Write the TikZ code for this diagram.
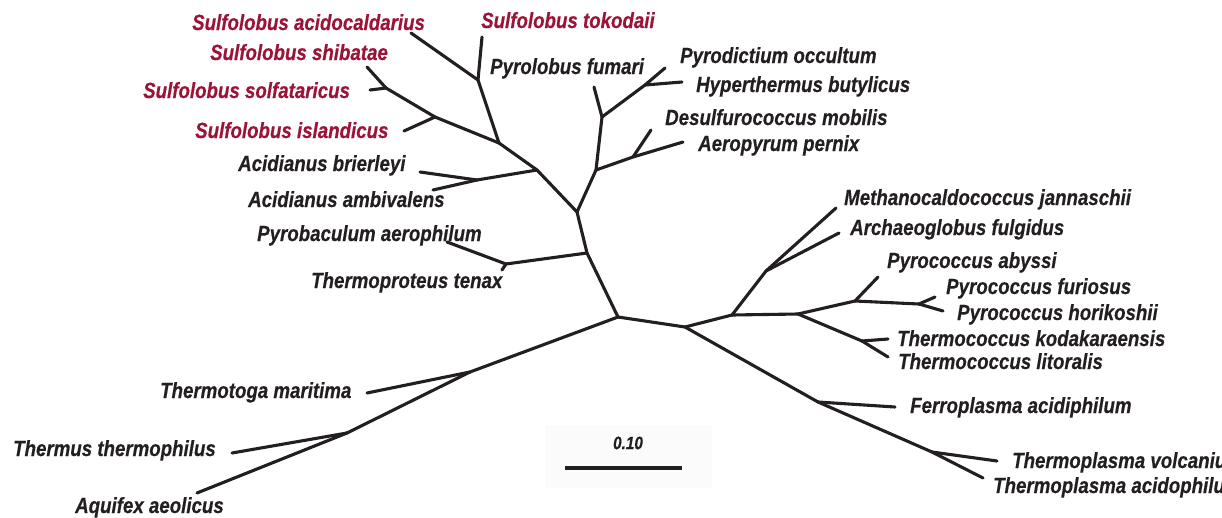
\documentclass[tikz,border=0pt]{standalone}
\usepackage{fontspec}
\setmainfont{Liberation Sans}
\newfontfamily\taxfont{Liberation Sans}[FakeStretch=0.85, FakeBold=0.4]
\usepackage{tikz}
\usetikzlibrary{positioning}
\usepackage{xcolor}
\definecolor{treeink}{RGB}{35,31,32}
\definecolor{sulfred}{RGB}{155,20,55}

\begin{document}
\begin{tikzpicture}[
    x=1pt, y=-1pt,
    branch/.style={draw=treeink, line width=3.1pt, line cap=round, line join=round},
    taxon/.style={anchor=base west, inner sep=0pt, text=treeink, font=\taxfont\bfseries\itshape\fontsize{22}{24}\selectfont},
    redtaxon/.style={taxon, text=sulfred},
    barlabel/.style={inner sep=0pt, text=treeink, font=\taxfont\bfseries\itshape\fontsize{18}{20}\selectfont}
  ]
  \useasboundingbox (0,0) rectangle (1222,517);
  \clip (0,0) rectangle (1222,517);

  % inner branch points
  \foreach \n/\x/\y in {A/478/80, B/499/143, C/386/88, D/435/117, E/537/170, F/477/180,
      G/577/212, H/596/170, I/602/117, J/645/85, K/633/157, L/587/253, M/506/264,
      N/618/317, O/685/327, P/470/372, Q/347/433, R/732/315, S/766/271, T/798/314,
      U/855/301, V/919/304, W/862/341, X/818/402, Y/932/452} {
    \coordinate (\n) at (\x,\y);
  }

  % leaf tips
  \foreach \n/\x/\y in {acido/411/33, toko/482/37, shiba/367/67, solfa/370/90, islan/404/131,
      brier/420/172, ambiv/433/190, fumari/594/87, occul/665/68, butyl/682/82,
      mobil/651/130, perni/683/142, aerop/447/242, tenax/502/270,
      janna/836/208, fulgi/839/233, abyss/878/277, furio/935/297, horik/943/311,
      kodak/888/339, litor/888/357, ferro/895/407, volca/997/461, acidoph/983/478,
      marit/367/393, therm/232/453, aquif/197/493} {
    \coordinate (\n) at (\x,\y);
  }

  % branches
  \foreach \a/\b in {A/acido, A/toko, A/B, C/shiba, C/solfa, C/D, D/islan, D/B, B/E,
      F/brier, F/ambiv, F/E, E/G, G/H, H/I, I/fumari, I/J, J/occul, J/butyl,
      H/K, K/mobil, K/perni, G/L, L/M, M/aerop, M/tenax, L/N, N/O, N/P,
      P/marit, P/Q, Q/therm, Q/aquif, O/R, R/S, S/janna, S/fulgi, R/T, T/U,
      U/abyss, U/V, V/furio, V/horik, T/W, W/kodak, W/litor, O/X, X/ferro,
      X/Y, Y/volca, Y/acidoph} {
    \draw[branch] (\a) -- (\b);
  }

  % Sulfolobus
  \node[redtaxon] (tacido) at (192,30) {Sulfolobus acidocaldarius};
  \node[redtaxon] (ttoko) at (481,28) {Sulfolobus tokodaii};
  \node[redtaxon] (tshiba) at (210,60) {Sulfolobus shibatae};
  \node[redtaxon] (tsolfa) at (143,98) {Sulfolobus solfataricus};
  \node[redtaxon] (tislan) at (195,138) {Sulfolobus islandicus};

  % other crenarchaeota
  \node[taxon] (tbrier) at (238,171) {Acidianus brierleyi};
  \node[taxon] (tambiv) at (248,207) {Acidianus ambivalens};
  \node[taxon] (tfumari) at (490,74) {Pyrolobus fumari};
  \node[taxon] (toccul) at (680,63) {Pyrodictium occultum};
  \node[taxon] (tbutyl) at (696,92) {Hyperthermus butylicus};
  \node[taxon] (tmobil) at (665,125) {Desulfurococcus mobilis};
  \node[taxon] (tperni) at (698,151) {Aeropyrum pernix};
  \node[taxon] (taerop) at (257,241) {Pyrobaculum aerophilum};
  \node[taxon] (ttenax) at (311,288) {Thermoproteus tenax};

  % euryarchaeota
  \node[taxon] (tjanna) at (844,205) {Methanocaldococcus jannaschii};
  \node[taxon] (tfulgi) at (850,235) {Archaeoglobus fulgidus};
  \node[taxon] (tabyss) at (887,268) {Pyrococcus abyssi};
  \node[taxon] (tfurio) at (946,294) {Pyrococcus furiosus};
  \node[taxon] (thorik) at (957,320) {Pyrococcus horikoshii};
  \node[taxon] (tkodak) at (897,346) {Thermococcus kodakaraensis};
  \node[taxon] (tlitor) at (898,369) {Thermococcus litoralis};
  \node[taxon] (tferro) at (910,413) {Ferroplasma acidiphilum};
  \node[taxon] (tvolca) at (1012,468) {Thermoplasma volcanium};
  \node[taxon] (tacidoph) at (993,493) {Thermoplasma acidophilum};

  % bacteria
  \node[taxon] (tmarit) at (160,398) {Thermotoga maritima};
  \node[taxon] (ttherm) at (13,456) {Thermus thermophilus};
  \node[taxon] (taquif) at (75,513) {Aquifex aeolicus};

  % scale bar
  \fill[black!1.5] (545,425) rectangle (712,488);
  \coordinate (bar1) at (565,468);
  \coordinate (bar2) at (682,468);
  \draw[branch, line width=4pt, line cap=butt] (bar1) -- (bar2);
  \node[barlabel] (barval) at (628,443) {0.10};
\end{tikzpicture}
\end{document}
